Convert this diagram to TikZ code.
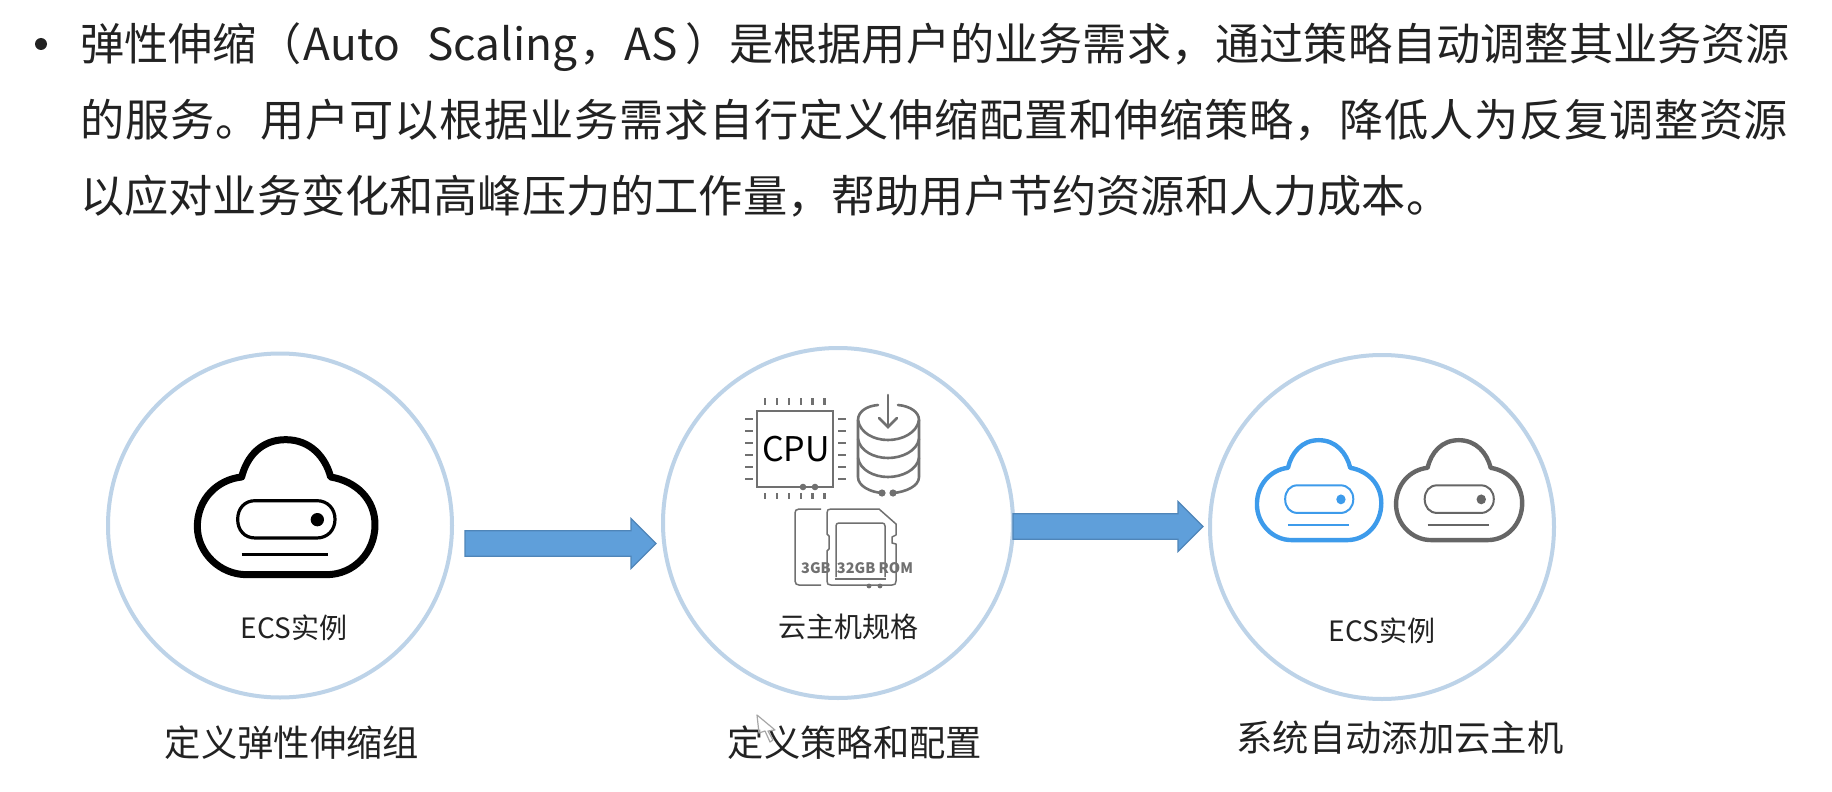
\documentclass[tikz,border=0pt]{standalone}
\usepackage{fontspec}
\setmainfont{Noto Sans CJK SC}
\usetikzlibrary{calc}
\definecolor{ringc}{HTML}{BDD3E8}
\definecolor{arrowc}{HTML}{5F9FDA}
\definecolor{arrowd}{HTML}{4F85B8}
\definecolor{txt}{HTML}{222222}
\definecolor{cloudb}{HTML}{3D9BEB}
\definecolor{cloudg}{HTML}{666666}
\definecolor{chipg}{HTML}{707070}
\newcommand{\cloudicon}[7]{%
\begin{scope}[shift={(#1,#2)},xscale=#3/3,yscale=#7/3,draw=#4,#4]
\draw[line width=#5pt,line join=round] (-133,-90) .. controls (-118,-150) and (-75,-202) .. (-1,-202) .. controls (73,-202) and (118,-150) .. (134,-90) .. controls (212,-77) and (267,-22) .. (267,53) .. controls (267,138) and (202,203) .. (122,203) -- (-118,203) .. controls (-198,203) and (-266,138) .. (-266,58) .. controls (-266,-22) and (-208,-82) .. (-133,-90) -- cycle;
\draw[line width=#6pt] (-92,-19) -- (92,-19) .. controls (125,-19) and (147,5) .. (147,37) .. controls (147,69) and (125,93) .. (92,93) -- (-92,93) .. controls (-125,93) and (-145,69) .. (-145,37) .. controls (-145,5) and (-125,-19) .. (-92,-19) -- cycle;
\fill (94,38) circle[x radius=20,y radius=20];
\draw[line width=#6pt] (-133,143) -- (127,143);
\end{scope}}
\newcommand{\blockarrow}[2]{%
\draw[draw=arrowd,fill=arrowc,line width=1.2pt,line join=miter]
 ($(#1)+(0,-12.7)$) -- ($(#2)+(-25,-12.7)$) -- ($(#2)+(-25,-25)$) -- (#2) -- ($(#2)+(-25,25)$) -- ($(#2)+(-25,12.7)$) -- ($(#1)+(0,12.7)$) -- cycle;}
\tikzset{
 ring/.style={circle,draw=ringc,line width=4pt,fill=white,inner sep=0pt},
 para/.style={inner sep=0pt,anchor=west,text=txt,font=\fontsize{44.2}{44.2}\selectfont},
 caption/.style={inner sep=0pt,text=txt,font=\fontsize{36.3}{36.3}\selectfont},
 small/.style={inner sep=0pt,text=txt,font=\fontsize{28}{28}\selectfont},
 chip/.style={draw=chipg,line width=2pt},
 tick/.style={draw=chipg,line width=2.4pt},
 cardtxt/.style={inner sep=0pt,text=chipg,font=\bfseries\fontsize{14.5}{14.5}\selectfont},
}
\begin{document}
\begin{tikzpicture}[x=1pt,y=-1pt]
\useasboundingbox[fill=white] (0,0) rectangle (1832,792);
\fill[txt] (41,44) circle[radius=6];
\node[para] (l1) at (80,47) {\makebox[223.6pt][l]{弹性伸缩（}\makebox[123.4pt][l]{Auto}\makebox[152pt][l]{Scaling}\makebox[45.5pt][l]{，}\makebox[60.5pt][l]{AS}）是根据用户的业务需求，通过策略自动调整其业务资源};
\node[para] (l2) at (80,120.5) {\makebox[1708pt][s]{的\hfill 服\hfill 务\hfill 。\hfill 用\hfill 户\hfill 可\hfill 以\hfill 根\hfill 据\hfill 业\hfill 务\hfill 需\hfill 求\hfill 自\hfill 行\hfill 定\hfill 义\hfill 伸\hfill 缩\hfill 配\hfill 置\hfill 和\hfill 伸\hfill 缩\hfill 策\hfill 略\hfill ，\hfill 降\hfill 低\hfill 人\hfill 为\hfill 反\hfill 复\hfill 调\hfill 整\hfill 资\hfill 源}};
\node[para] (l3) at (80,196) {以应对业务变化和高峰压力的工作量，帮助用户节约资源和人力成本。};

\node[ring,minimum size=344pt] (c1) at (280,525.5) {};
\node[ring,minimum size=350pt] (c2) at (838,523) {};
\node[ring,minimum size=344pt] (c3) at (1382,527) {};

\coordinate (a1s) at (465,543.5);
\coordinate (a1e) at (656,543.5);
\coordinate (a2s) at (1013,526.5);
\coordinate (a2e) at (1203,526.5);
\blockarrow{a1s}{a1e}
\blockarrow{a2s}{a2e}

\cloudicon{286}{507}{1}{black}{7}{3.2}{1}
\cloudicon{1319}{490}{0.70}{cloudb}{4.4}{2}{0.74}
\cloudicon{1459}{490}{0.71}{cloudg}{4.4}{2}{0.74}

\node[small] (t1) at (294,628) {ECS实例};
\node[small] (t2) at (848,627) {云主机规格};
\node[small] (t3) at (1382,631) {ECS实例};
\node[caption] (b1) at (292,743) {定义弹性伸缩组};
\node[caption] (b2) at (855,743) {定义策略和配置};
\node[caption] (b3) at (1400,738) {系统自动添加云主机};

% CPU chip
\draw[chip] (757,411) rectangle (833,487);
\foreach \i in {0,...,5}{
 \draw[tick] ({765+\i*11.9},398) -- ++(0,7);
 \draw[tick] ({765+\i*11.9},493) -- ++(0,6);
 \draw[tick] (745,{419+\i*12}) -- ++(8,0);
 \draw[tick] (838,{419+\i*12}) -- ++(8,0);
}
\fill[chipg] (803,487) circle[radius=3.3] (815,487) circle[radius=3.3];
\node[inner sep=0pt,text=black,font=\fontsize{34}{34}\selectfont] (cpu) at (796,449) {CPU};
% database
\begin{scope}[chip,line width=2.6pt,line cap=round]
\draw (878,405) .. controls (866,406) and (858,412) .. (858,420) -- (858,477) .. controls (858,486) and (870,492) .. (882,493);
\draw (898,405) .. controls (910,406) and (919,412) .. (919,420) -- (919,477) .. controls (919,486) and (906,492) .. (893,493);
\draw (858,420) .. controls (860,433) and (874,440) .. (888,440) .. controls (902,440) and (917,433) .. (919,420);
\draw (858,439) .. controls (860,451) and (874,458) .. (888,458) .. controls (902,458) and (917,451) .. (919,439);
\draw (858,458) .. controls (860,470) and (874,477) .. (888,477) .. controls (902,477) and (917,470) .. (919,458);
\draw (888,395) -- (888,427);
\draw (879,418) -- (888,427) -- (897,418);
\fill[chipg] (882,493) circle[radius=3.6] (893,493) circle[radius=3.6];
\end{scope}
% memory cards
\begin{scope}[chip,line width=1.5pt,line join=round]
\draw (821,509) -- (799,509) .. controls (796,509) and (795,511) .. (795,513) -- (795,581) .. controls (795,584) and (797,585) .. (799,585) -- (821,585);
\draw (831,509) -- (879,509) -- (896,524) -- (896,535) -- (892,537) -- (892,543) -- (896,544) -- (896,581) .. controls (896,584) and (895,585) .. (892,585) -- (831,585) .. controls (828,585) and (827,584) .. (827,581) -- (827,551) -- (829,549) -- (829,536) -- (827,534) -- (827,513) .. controls (827,510) and (828,509) .. (831,509);
\draw (836,577) -- (836,526) .. controls (836,524) and (837,523) .. (839,523) -- (882,523) .. controls (884,523) and (885,524) .. (885,526) -- (885,577);
\draw (835,579) -- (886,579);
\fill[chipg] (869,586) circle[radius=2.4] (880,586) circle[radius=2.4];
\end{scope}
\node[cardtxt] (g1) at (816,568) {3GB};
\node[cardtxt] (g2) at (875,568) {32GB ROM};
% mouse cursor
\draw[draw=black!35,fill=white,fill opacity=0.6,line width=1.2pt,line join=round] (757,715) -- (759,733) -- (765,731) -- (770,742) -- (773,740) -- (768,731) -- (775,730) -- cycle;
\end{tikzpicture}
\end{document}
